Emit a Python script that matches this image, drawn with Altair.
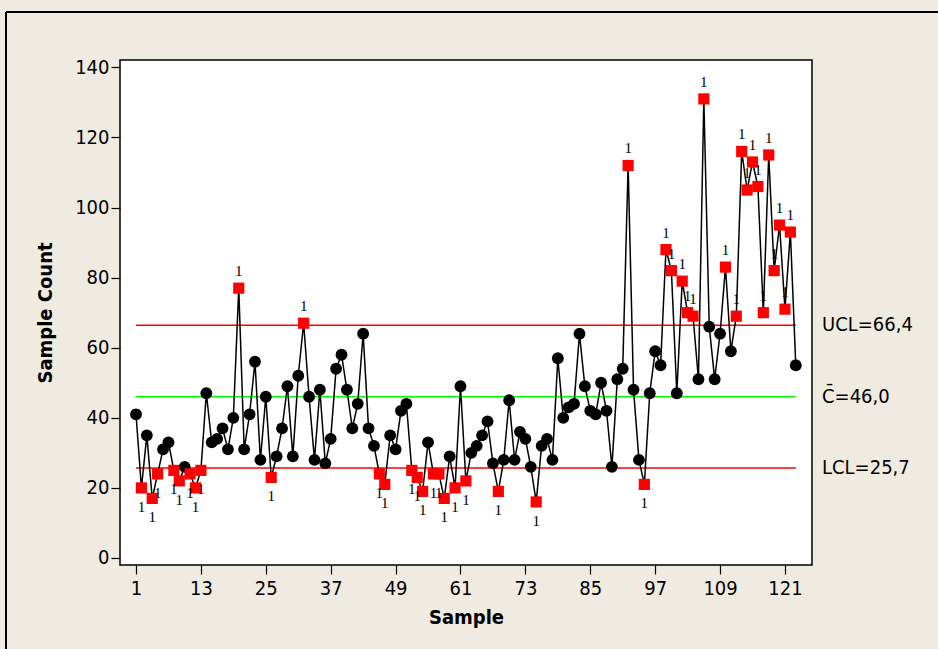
import altair as alt
import pandas as pd

# Defect counts per sample (C chart)
counts = [
    41, 20, 35, 17, 24, 31, 33, 25, 22, 26,
    24, 20, 25, 47, 33, 34, 37, 31, 40, 77,
    31, 41, 56, 28, 46, 23, 29, 37, 49, 29,
    52, 67, 46, 28, 48, 27, 34, 54, 58, 48,
    37, 44, 64, 37, 32, 24, 21, 35, 31, 42,
    44, 25, 23, 19, 33, 24, 24, 17, 29, 20,
    49, 22, 30, 32, 35, 39, 27, 19, 28, 45,
    28, 36, 34, 26, 16, 32, 34, 28, 57, 40,
    43, 44, 64, 49, 42, 41, 50, 42, 26, 51,
    54, 112, 48, 28, 21, 47, 59, 55, 88, 82,
    47, 79, 70, 69, 51, 131, 66, 51, 64, 83,
    59, 69, 116, 105, 113, 106, 70, 115, 82, 95,
    71, 93, 55,
]
samples = list(range(1, len(counts) + 1))

ucl, center, lcl = 66.4, 46.0, 25.7
limit_values = [ucl, center, lcl]
limit_labels = ["UCL=66,4", "C\u0304=46,0", "LCL=25,7"]
limit_colors = ["#FF0000", "#00FF00", "#FF0000"]

x_ticks = [1, 13, 25, 37, 49, 61, 73, 85, 97, 109, 121]
y_ticks = [0, 20, 40, 60, 80, 100, 120, 140]

df = pd.DataFrame({"sample": samples, "count": counts})
df["status"] = ["high" if c > ucl else ("low" if c < lcl else "in") for c in counts]

limits = pd.DataFrame({
    "value": limit_values,
    "label": limit_labels,
    "color": limit_colors,
    "start": samples[0],
    "end": samples[-1],
})

W, H = 692, 505
FONT = "DejaVu Sans Condensed, Liberation Sans, sans-serif"

x_scale = alt.Scale(domain=[-1.96, 126.0], nice=False, zero=False)
y_scale = alt.Scale(domain=[-2.0, 142.1], nice=False, zero=False)

x_enc = alt.X(
    "sample:Q", scale=x_scale,
    axis=alt.Axis(values=x_ticks, title="Sample", format="d"),
)
y_enc = alt.Y(
    "count:Q", scale=y_scale,
    axis=alt.Axis(values=y_ticks, title="Sample Count", format="d"),
)

base = alt.Chart(df)

limit_lines = alt.Chart(limits).mark_rule(strokeWidth=1.5).encode(
    x=alt.X("start:Q", scale=x_scale),
    x2="end:Q",
    y=alt.Y("value:Q", scale=y_scale),
    color=alt.Color("color:N", scale=None),
)

limit_text = alt.Chart(limits).mark_text(
    align="left", baseline="middle", font=FONT, fontSize=20, color="black"
).encode(
    x=alt.value(W + 10),
    y=alt.Y("value:Q", scale=y_scale),
    text="label:N",
)

series = base.mark_line(color="black", strokeWidth=1.5).encode(x=x_enc, y=y_enc)

dots = base.transform_filter(alt.datum.status == "in").mark_point(
    shape="circle", filled=True, color="black", size=140, opacity=1
).encode(x=x_enc, y=y_enc)

flags = base.transform_filter(alt.datum.status != "in").mark_point(
    shape="square", filled=True, color="#FF0000", size=125, opacity=1
).encode(x=x_enc, y=y_enc)

high_text = base.transform_filter(alt.datum.status == "high").mark_text(
    text="1", font="Liberation Serif", fontSize=15, color="black",
    baseline="middle", dy=-17,
).encode(x=x_enc, y=y_enc)

low_text = base.transform_filter(alt.datum.status == "low").mark_text(
    text="1", font="Liberation Serif", fontSize=15, color="black",
    baseline="middle", dy=19,
).encode(x=x_enc, y=y_enc)

# outer panel border (top and left edges)
frame_top = alt.Chart(df).mark_rule(color="black", strokeWidth=1.5).encode(
    x=alt.value(-114), x2=alt.value(W + 140), y=alt.value(-48)
)
frame_left = alt.Chart(df).mark_rule(color="black", strokeWidth=1.5).encode(
    x=alt.value(-114), y=alt.value(-48), y2=alt.value(H + 100)
)

chart = alt.layer(
    frame_top, frame_left, limit_lines, series, dots, flags,
    high_text, low_text, limit_text,
).properties(
    width=W, height=H,
    padding={"left": 120, "top": 60, "right": 126, "bottom": 84},
    autosize=alt.AutoSizeParams(type="none"),
    background="#EFEBE1",
).configure_view(
    fill="white", stroke="black", strokeWidth=1.5
).configure_axis(
    grid=False, domain=False,
    tickColor="black", tickSize=9, tickWidth=1.2,
    labelFont=FONT, labelFontSize=20, labelColor="black", labelPadding=3,
    titleFont=FONT, titleFontSize=20, titleFontWeight="bold", titleColor="black",
).configure_axisY(
    titlePadding=19, labelPadding=2
).configure_axisX(
    titlePadding=9, labelPadding=4
)

chart.save("out.html", embed_options={"renderer": "svg", "actions": False})
